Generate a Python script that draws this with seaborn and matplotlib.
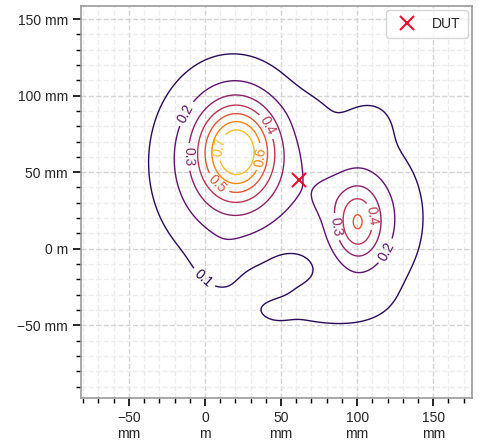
import numpy as np
import matplotlib
matplotlib.use("Agg")
import matplotlib.pyplot as plt
import seaborn as sns
from matplotlib.ticker import MultipleLocator, FuncFormatter

# Blob parameters (positions in mm)
blob_x = [21, 18, 100, 108, 74, 110, 10, 38, 56, 75, 80, 46]
blob_y = [64, 56, 17, 20, -38, 84, -12, -24, -13, 94, 34, -40]
blob_sx = [16, 36, 10, 28, 32, 12, 12, 10, 9, 16, 8, 8]
blob_sy = [20, 46, 16, 40, 13, 12, 12, 7, 6, 10, 9, 6]
blob_amp = [0.52, 0.32, 0.285, 0.22, 0.09, 0.065, 0.05, -0.08, -0.06, 0.02, 0.03, 0.05]

levels = [0.1, 0.2, 0.3, 0.4, 0.5, 0.6, 0.7]
label_spots = [(8, -10), (-14, 89), (118, -1), (-10, 60), (84, 14),
               (41, 80), (108, 21), (8, 42), (37, 60), (12, 66)]

dut_x = [62]
dut_y = [45]

sns.set_theme(style="ticks")
plt.rcParams['font.family'] = ['Liberation Sans', 'DejaVu Sans']

# build the field from the blobs
gx = np.linspace(-90, 180, 271)
gy = np.linspace(-100, 160, 261)
X, Y = np.meshgrid(gx, gy)
Z = np.zeros_like(X)
for cx, cy, sx, sy, a in zip(blob_x, blob_y, blob_sx, blob_sy, blob_amp):
    Z += a * np.exp(-((X - cx) ** 2 / (2 * sx ** 2) + (Y - cy) ** 2 / (2 * sy ** 2)))

fig = plt.figure(figsize=(4.82, 4.43), dpi=100)
ax = fig.add_axes([81 / 482, 45 / 443, 391 / 482, 392 / 443])

cmap = sns.color_palette("inferno", as_cmap=True)
colors = [cmap(0.15 + 0.7 * i / (len(levels) - 1)) for i in range(len(levels))]
cs = ax.contour(X, Y, Z, levels=levels, colors=colors, linewidths=1)
ax.clabel(cs, fontsize=10, fmt='%.1f', manual=label_spots, inline_spacing=4)

ax.plot(dut_x, dut_y, 'x', color='#e8102d', markersize=10, mew=1.5, ls='none', label='DUT')
ax.legend(loc='upper right', fontsize=10, handletextpad=0.8, borderpad=0.5,
          borderaxespad=0.3)

ax.set_xlim(-81.5, 175.5)
ax.set_ylim(-97.5, 158.5)

ax.xaxis.set_major_locator(MultipleLocator(50))
ax.xaxis.set_minor_locator(MultipleLocator(10))
ax.yaxis.set_major_locator(MultipleLocator(50))
ax.yaxis.set_minor_locator(MultipleLocator(10))


def fmt(v, sep):
    if v == 0:
        return '0' + sep + 'm'
    return f"{v:.0f}".replace('-', '\u2212') + sep + 'mm'


ax.xaxis.set_major_formatter(FuncFormatter(lambda v, p: fmt(v, '\n')))
ax.yaxis.set_major_formatter(FuncFormatter(lambda v, p: fmt(v, ' ')))

ax.grid(which='major', ls='--', color='#d4d4d4', lw=1)
ax.grid(which='minor', ls='--', color='#ececec', lw=1)
ax.set_axisbelow(True)

for s in ax.spines.values():
    s.set_color('#999999')
    s.set_linewidth(1.2)
ax.tick_params(which='major', length=6, width=1.2, color='black', labelsize=10)
ax.tick_params(which='minor', length=3.5, width=1, color='black')

fig.savefig('out.png', dpi=100)
